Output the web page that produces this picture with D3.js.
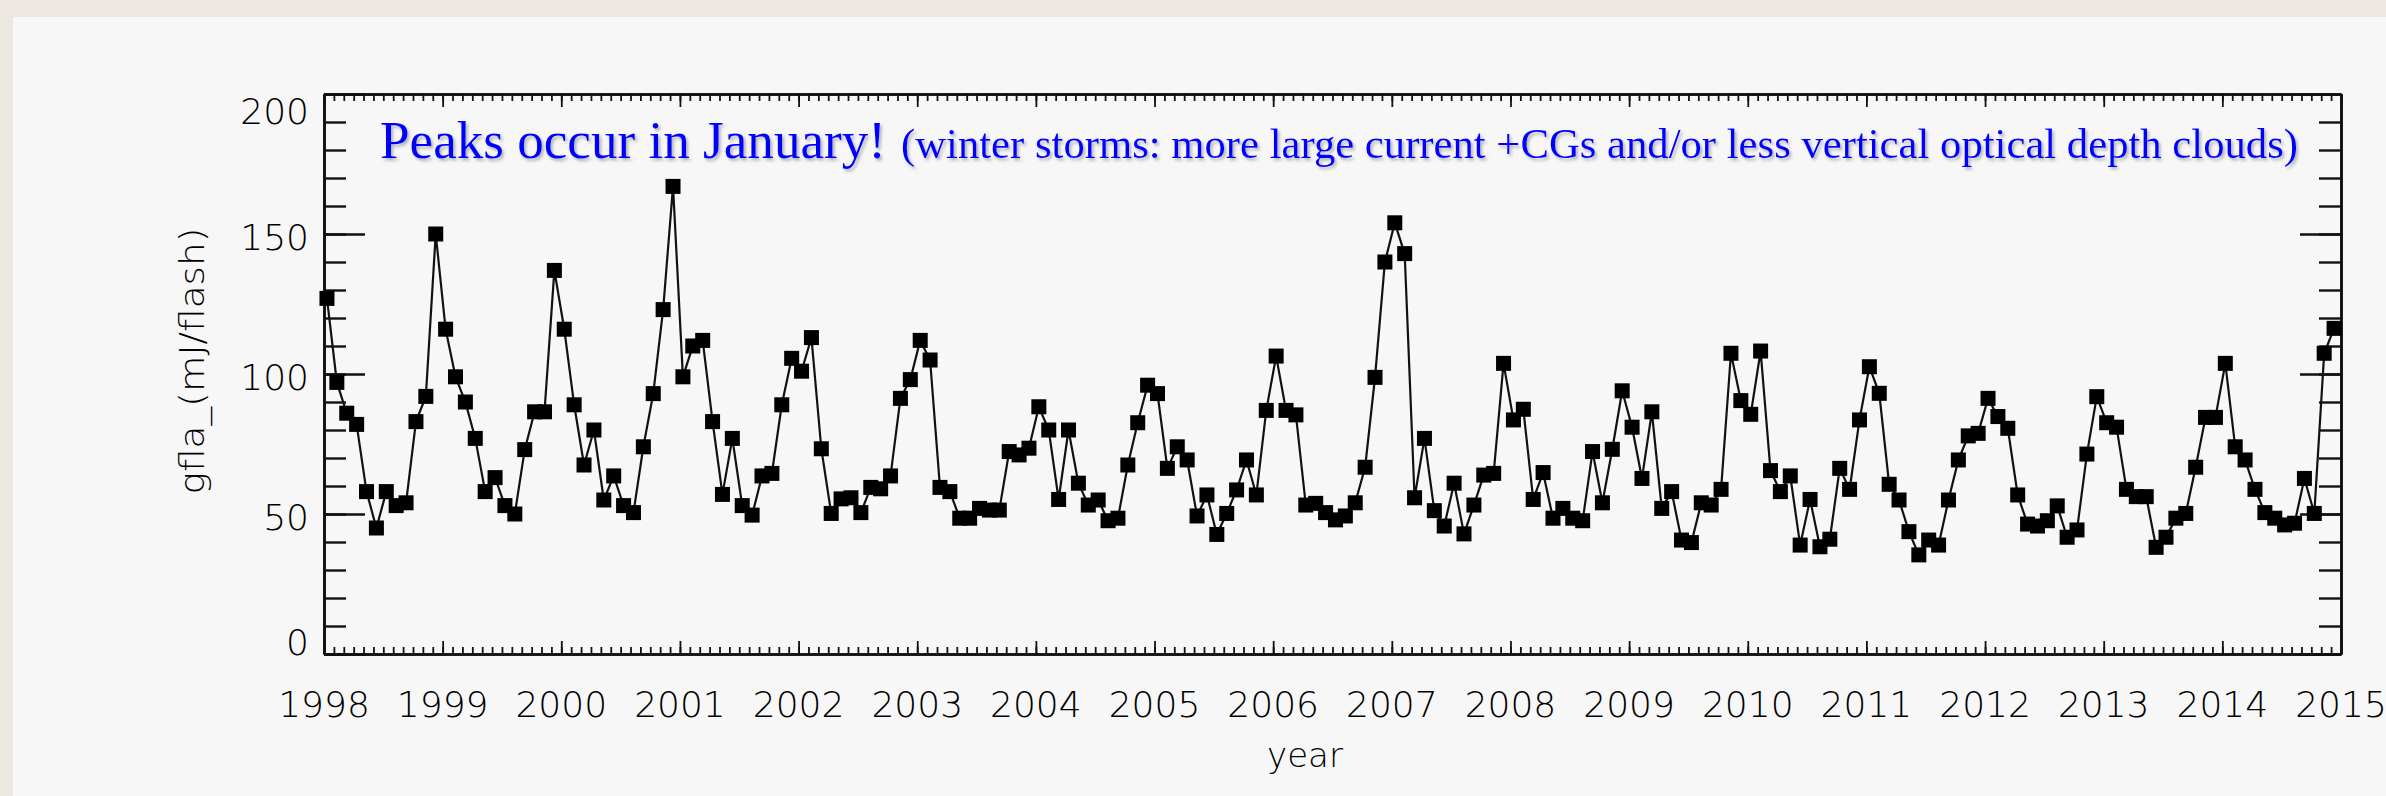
<!DOCTYPE html>
<html><head><meta charset="utf-8">
<script src="https://cdn.jsdelivr.net/npm/d3@7/dist/d3.min.js"></script>
<style>
html,body{margin:0;padding:0;background:#ece7e1;}
svg{display:block;}
</style></head><body>
<svg id="chart" width="2386" height="796"></svg>
<script>
// ---------------- data ----------------
const startYear = 1998;
const yearTicks = d3.range(1998, 2016);
const yTicks = [0, 50, 100, 150, 200];
// monthly mean flash energy, Jan 1998 .. Dec 2014 (12 values per row)
const gfla = [
  127, 97, 86, 82, 58, 45, 58, 53, 54, 83, 92, 150,
  116, 99, 90, 77, 58, 63, 53, 50, 73, 86.5, 86.5, 137,
  116, 89, 67.5, 80, 55, 63.6, 53, 50.5, 74, 93, 123, 167,
  99, 110, 112, 83, 57, 77, 53, 49.6, 63.6, 64.5, 89, 105.6,
  101, 113, 73.3, 50.2, 55.4, 55.8, 50.5, 59.5, 59, 63.6, 91.3, 98,
  112, 105, 59.5, 58, 48.5, 48.5, 52, 51.4, 51.4, 72.3, 71.1, 73.5,
  88.3, 80, 55.2, 80, 61, 53.2, 55, 47.6, 48.5, 67.5, 82.6, 96,
  93, 66.3, 74, 69.3, 49.3, 56.8, 42.7, 50.2, 58.6, 69.3, 56.8, 87,
  106.4, 87, 85.4, 53.2, 53.8, 50.5, 47.9, 49.3, 54, 66.7, 98.8, 140,
  154, 143, 55.8, 77, 51.2, 45.7, 61, 42.9, 53.2, 63.9, 64.5, 103.8,
  83.6, 87.4, 55.2, 64.8, 48.5, 52, 48.5, 47.6, 72.3, 54, 73.1, 94,
  81, 62.7, 86.5, 52, 58, 40.7, 39.8, 54, 53.2, 58.8, 107.4, 90.5,
  85.6, 108.2, 65.5, 58, 63.6, 38.9, 55.2, 38.3, 41, 66.3, 58.8, 83.6,
  102.6, 93.1, 60.6, 55, 43.7, 35.4, 40.7, 38.9, 55, 69.3, 77.9, 78.8,
  91.3, 84.8, 80.6, 56.8, 46.4, 45.7, 47.6, 52.9, 41.7, 44.3, 71.4, 91.9,
  82.6, 81, 58.8, 56.2, 56.2, 38.1, 41.7, 48.5, 50.2, 66.7, 84.5, 84.5,
  103.8, 74, 69.3, 58.8, 50.5, 48.5, 46.1, 46.7, 62.7, 50.2, 107.4, 116.3
];
const titleMain = "Peaks occur in January!";
const titleNote = "(winter storms: more large current +CGs and/or less vertical optical depth clouds)";
const xTitle = "year";
const yTitle = "gfla_(mJ/flash)";

// ---------------- layout ----------------
const W = 2386, H = 796;
const plot = {left: 324, right: 2341, top: 94, bottom: 654};
const ink = "#111";
const labelFont = "'DejaVu Sans', sans-serif";

const svg = d3.select("#chart");

// background panel
svg.append("rect").attr("x", 0).attr("y", 0).attr("width", W).attr("height", H).attr("fill", "#ece7e1");
svg.append("rect").attr("x", 13).attr("y", 17).attr("width", W - 13).attr("height", H - 17).attr("fill", "#f7f7f7");

const defs = svg.append("defs");
const f = defs.append("filter").attr("id", "shadow").attr("x", "-5%").attr("y", "-30%").attr("width", "110%").attr("height", "160%");
f.append("feDropShadow").attr("dx", 2).attr("dy", 2.5).attr("stdDeviation", 1.6)
  .attr("flood-color", "#777").attr("flood-opacity", 0.55);

const x = d3.scaleLinear().domain([1998, 2015]).range([plot.left, plot.right]);
const y = d3.scaleLinear().domain([0, 200]).range([plot.bottom, plot.top]);

const monthTicks = d3.range(0, 17 * 12 + 1).map(i => startYear + i / 12);
const yMinor = d3.range(0, 201, 10);

function styleAxis(g, w) {
  g.selectAll("text").remove();
  g.select(".domain").attr("stroke", ink).attr("stroke-width", 2.6);
  g.selectAll(".tick line").attr("stroke", ink).attr("stroke-width", w);
}
const none = () => "";

// y axes (left, right): minor + major, inward
[[plot.left, d3.axisLeft], [plot.right, d3.axisRight]].forEach(([px, gen]) => {
  svg.append("g").attr("transform", `translate(${px},0)`)
    .call(gen(y).tickValues(yMinor).tickSizeInner(-22).tickSizeOuter(0).tickFormat(none))
    .call(g => styleAxis(g, 2.4));
  svg.append("g").attr("transform", `translate(${px},0)`)
    .call(gen(y).tickValues(yTicks).tickSizeInner(-41).tickSizeOuter(0).tickFormat(none))
    .call(g => styleAxis(g, 2.4));
});
// x axes (bottom, top)
[[plot.bottom, d3.axisBottom], [plot.top, d3.axisTop]].forEach(([py, gen]) => {
  svg.append("g").attr("transform", `translate(0,${py})`)
    .call(gen(x).tickValues(monthTicks).tickSizeInner(-7).tickSizeOuter(0).tickFormat(none))
    .call(g => styleAxis(g, 1.8));
  svg.append("g").attr("transform", `translate(0,${py})`)
    .call(gen(x).tickValues(yearTicks).tickSizeInner(-13).tickSizeOuter(0).tickFormat(none))
    .call(g => styleAxis(g, 1.8));
});

// tick labels
svg.append("g").selectAll("text").data(yearTicks).join("text")
  .attr("x", d => x(d)).attr("y", 717)
  .attr("text-anchor", "middle")
  .attr("font-family", labelFont).attr("font-weight", 200).attr("font-size", 36)
  .attr("fill", "#000").text(d => d);

// y labels: centred on their tick, kept inside the frame at the ends
const labY = d => Math.max(plot.top + 17, Math.min(plot.bottom - 12, y(d) + 3));
svg.append("g").selectAll("text").data(yTicks).join("text")
  .attr("x", 309).attr("y", d => labY(d) + 13)
  .attr("text-anchor", "end")
  .attr("font-family", labelFont).attr("font-weight", 200).attr("font-size", 36)
  .attr("fill", "#000").text(d => d);

// axis titles
svg.append("text").attr("x", 1305).attr("y", 767)
  .attr("text-anchor", "middle")
  .attr("font-family", labelFont).attr("font-weight", 200).attr("font-size", 34)
  .attr("fill", "#000").text(xTitle);

svg.append("text")
  .attr("transform", "translate(204,361) rotate(-90)")
  .attr("text-anchor", "middle")
  .attr("font-family", labelFont).attr("font-weight", 200).attr("font-size", 33)
  .attr("textLength", 267).attr("lengthAdjust", "spacingAndGlyphs")
  .attr("fill", "#000").text(yTitle);

// series
const pts = gfla.map((v, i) => ({t: startYear + (i + 0.3) / 12, v}));
const line = d3.line().x(d => x(d.t)).y(d => y(d.v));
svg.append("path").datum(pts)
  .attr("d", line).attr("fill", "none")
  .attr("stroke", ink).attr("stroke-width", 2.2).attr("stroke-linejoin", "miter");
const S = 15;
svg.append("g").selectAll("rect").data(pts).join("rect")
  .attr("x", d => x(d.t) - S / 2).attr("y", d => y(d.v) - S / 2)
  .attr("width", S).attr("height", S).attr("fill", "#000");

// annotation
svg.append("text").attr("x", 380).attr("y", 158)
  .attr("font-family", "'Liberation Serif', 'Times New Roman', serif").attr("font-size", 53)
  .attr("textLength", 506).attr("lengthAdjust", "spacingAndGlyphs")
  .attr("fill", "#0000ff").attr("filter", "url(#shadow)").text(titleMain);
svg.append("text").attr("x", 901).attr("y", 158)
  .attr("font-family", "'Liberation Serif', 'Times New Roman', serif").attr("font-size", 42.5)
  .attr("textLength", 1397).attr("lengthAdjust", "spacingAndGlyphs")
  .attr("fill", "#0000ff").attr("filter", "url(#shadow)").text(titleNote);
</script>
</body></html>
